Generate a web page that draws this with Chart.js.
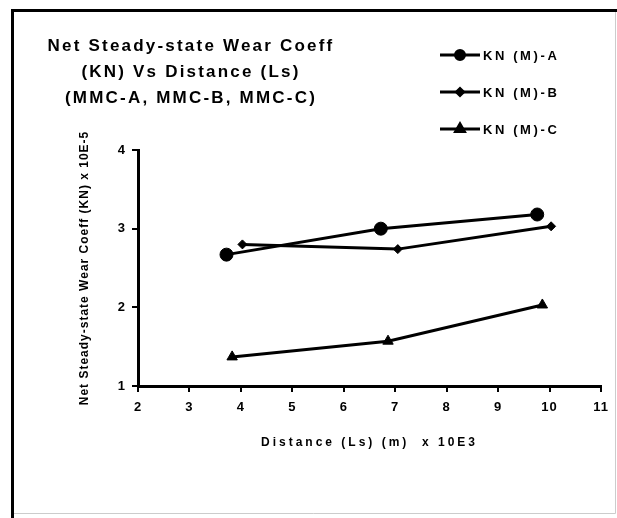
<!DOCTYPE html>
<html>
<head>
<meta charset="utf-8">
<script src="https://cdn.jsdelivr.net/npm/chart.js@4/dist/chart.umd.min.js"></script>
<style>
  html, body { margin: 0; padding: 0; background: #fff; }
  #wrap { width: 617px; height: 518px; }
</style>
</head>
<body>
<div id="wrap"><canvas id="chart" width="617" height="518"></canvas></div>
<script>
// values
const seriesNames = ['KN (M)-A', 'KN (M)-B', 'KN (M)-C'];
const distA = [3.72, 6.72, 9.76];
const wearA = [2.67, 3.00, 3.18];
const distB = [4.03, 7.05, 10.03];
const wearB = [2.80, 2.74, 3.03];
const distC = [3.83, 6.86, 9.86];
const wearC = [1.37, 1.57, 2.03];
const xTicks = [2, 3, 4, 5, 6, 7, 8, 9, 10, 11];
const yTicks = [1, 2, 3, 4];
const titleLines = ['Net Steady-state Wear Coeff', '(KN) Vs Distance (Ls)', '(MMC-A, MMC-B, MMC-C)'];

const FONT = '"Liberation Sans", Arial, sans-serif';
const toPoints = (xs, ys) => xs.map((x, i) => ({ x: x, y: ys[i] }));

// wider letter spacing for one scale's title only
function spaceTitle(scale, spacing) {
  if (!scale || scale._spaced) return;
  const orig = scale.drawTitle;
  scale.drawTitle = function () {
    const ctx = this.ctx;
    const old = ctx.letterSpacing;
    ctx.letterSpacing = spacing;
    orig.apply(this, arguments);
    ctx.letterSpacing = old;
  };
  scale._spaced = true;
}

const frame = {
  id: 'frame',
  beforeDraw(chart) {
    const ctx = chart.ctx;
    spaceTitle(chart.scales.x, '3px');
    ctx.save();
    ctx.fillStyle = '#fff';
    ctx.fillRect(0, 0, chart.width, chart.height);
    ctx.strokeStyle = '#ccc';
    ctx.lineWidth = 1;
    ctx.beginPath();
    ctx.moveTo(615.5, 10);
    ctx.lineTo(615.5, 513.5);
    ctx.lineTo(12, 513.5);
    ctx.stroke();
    ctx.strokeStyle = '#000';
    ctx.lineWidth = 3;
    ctx.beginPath();
    ctx.moveTo(12.5, 518);
    ctx.lineTo(12.5, 10.5);
    ctx.lineTo(617, 10.5);
    ctx.stroke();
    ctx.restore();
    ctx.letterSpacing = '1px';
  },
  afterDraw(chart) {
    const ctx = chart.ctx;
    ctx.save();
    ctx.fillStyle = '#000';
    ctx.textBaseline = 'middle';
    // title block
    ctx.font = 'bold 17px ' + FONT;
    ctx.letterSpacing = '2.2px';
    ctx.textAlign = 'center';
    titleLines.forEach((t, i) => ctx.fillText(t, 191, 46 + i * 26));
    // legend block
    ctx.font = 'bold 13px ' + FONT;
    ctx.letterSpacing = '2.6px';
    ctx.textAlign = 'left';
    const legendSizes = [4.5, 3.5, 5];
    chart.data.datasets.forEach((ds, i) => {
      const y = 55 + i * 37;
      ctx.strokeStyle = '#000';
      ctx.lineWidth = 3;
      ctx.beginPath();
      ctx.moveTo(440, y);
      ctx.lineTo(480, y);
      ctx.stroke();
      ctx.fillStyle = '#000';
      Chart.helpers.drawPoint(ctx, {
        pointStyle: ds.pointStyle,
        radius: legendSizes[i],
        rotation: 0,
        borderWidth: 1
      }, 460, y);
      ctx.fillStyle = '#000';
      ctx.fillText(ds.label, 483, y + 1);
    });
    ctx.restore();
  }
};

new Chart(document.getElementById('chart'), {
  type: 'scatter',
  data: {
    datasets: [
      { label: seriesNames[0], data: toPoints(distA, wearA), pointStyle: 'circle', pointRadius: 6.5 },
      { label: seriesNames[1], data: toPoints(distB, wearB), pointStyle: 'rectRot', pointRadius: 4.5 },
      { label: seriesNames[2], data: toPoints(distC, wearC), pointStyle: 'triangle', pointRadius: 6 }
    ].map(ds => Object.assign(ds, {
      showLine: true,
      borderColor: '#000',
      backgroundColor: '#000',
      pointBackgroundColor: '#000',
      pointBorderColor: '#000',
      borderWidth: 3,
      pointBorderWidth: 1,
      tension: 0
    }))
  },
  options: {
    responsive: false,
    animation: false,
    events: [],
    layout: { padding: { top: 150, right: 16, left: 0, bottom: 0 } },
    plugins: {
      legend: { display: false },
      title: { display: false },
      tooltip: { enabled: false }
    },
    scales: {
      x: {
        type: 'linear',
        min: 2,
        max: 11,
        afterFit: s => { s.height = 132; },
        afterBuildTicks: s => { s.ticks = xTicks.map(v => ({ value: v })); },
        border: { display: true, color: '#000', width: 3 },
        grid: { display: true, drawOnChartArea: false, drawTicks: true, tickLength: 6, color: '#000', lineWidth: 2 },
        ticks: { color: '#000', padding: 8, maxRotation: 0, font: { family: FONT, size: 13, weight: 'bold' } },
        title: {
          display: true,
          text: 'Distance (Ls) (m)  x 10E3',
          color: '#000',
          padding: { bottom: 68 },
          font: { family: FONT, size: 12, weight: 'bold' }
        }
      },
      y: {
        min: 1,
        max: 4,
        afterFit: s => { s.width = 138; },
        afterBuildTicks: s => { s.ticks = yTicks.map(v => ({ value: v })); },
        border: { display: true, color: '#000', width: 3 },
        grid: { display: true, drawOnChartArea: false, drawTicks: true, tickLength: 6, color: '#000', lineWidth: 2 },
        ticks: { color: '#000', padding: 6, font: { family: FONT, size: 13, weight: 'bold' } },
        title: {
          display: true,
          text: 'Net Steady-state Wear Coeff (KN) x 10E-5',
          color: '#000',
          padding: { top: 77 },
          font: { family: FONT, size: 12, weight: 'bold' }
        }
      }
    }
  },
  plugins: [frame]
});
</script>
</body>
</html>
